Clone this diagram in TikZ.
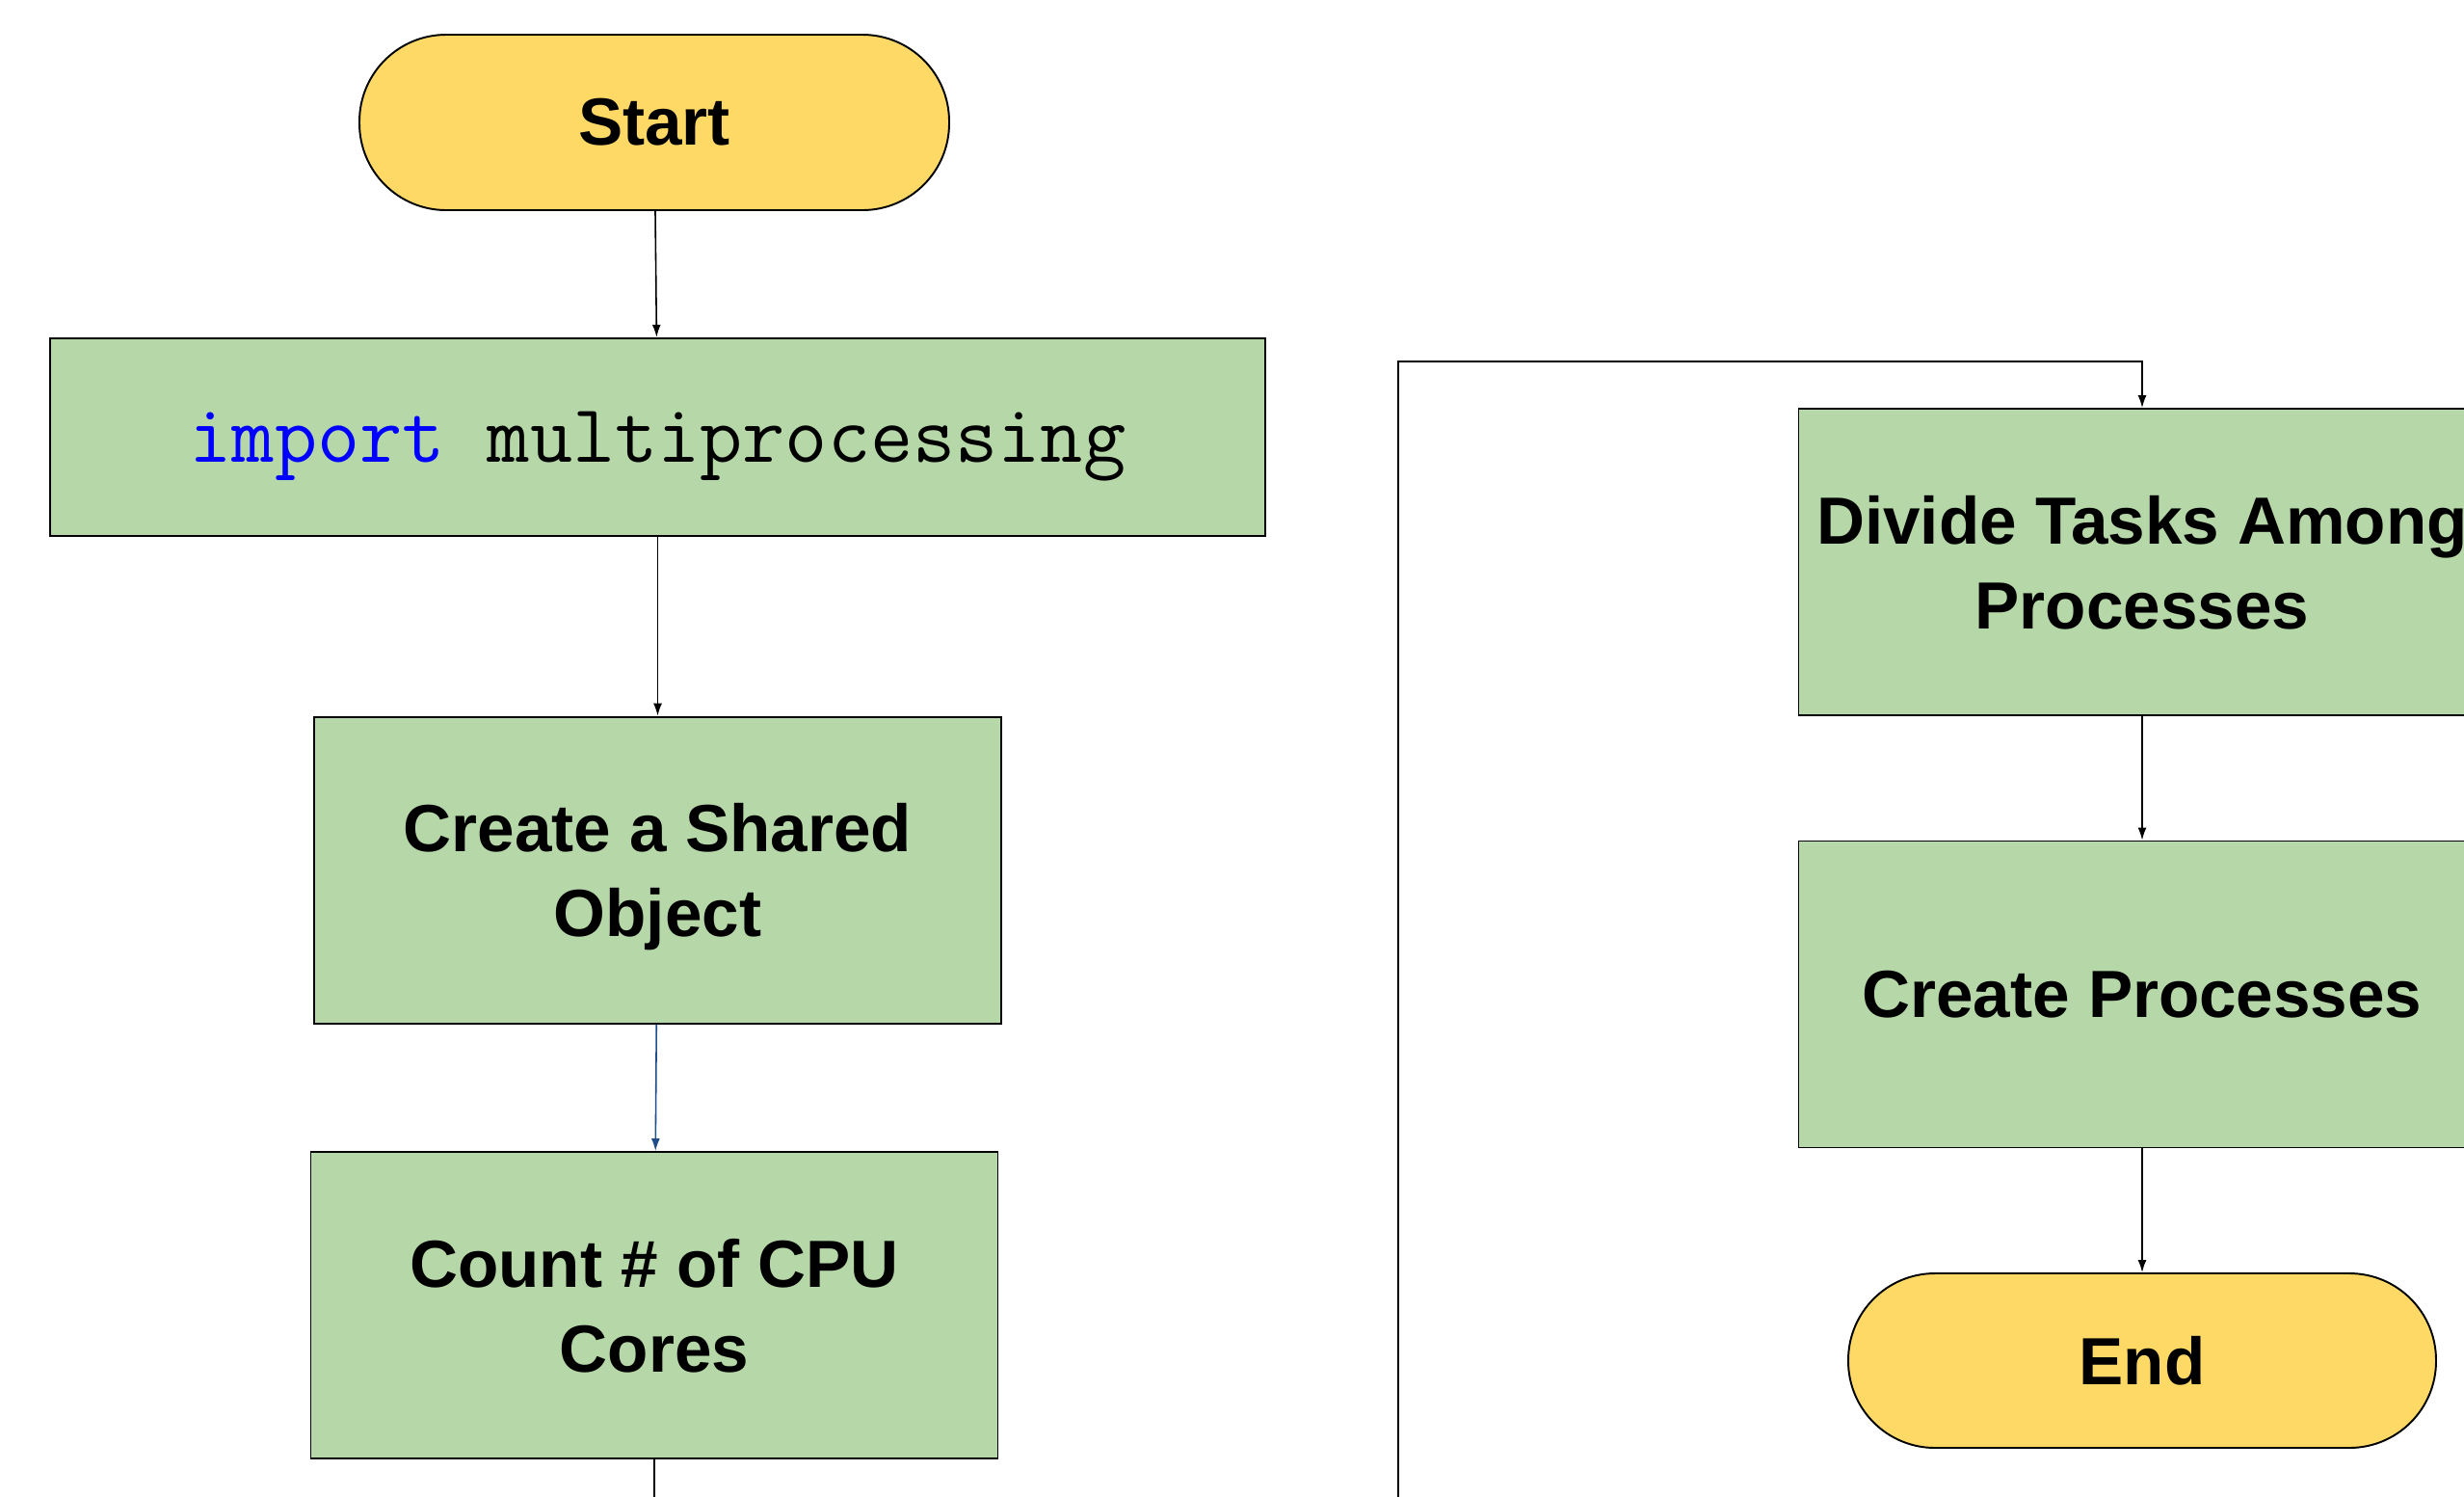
\documentclass[tikz,border=0pt]{standalone}
\usepackage{fontspec}
\setmainfont{Liberation Sans}
\usetikzlibrary{arrows.meta}

\definecolor{startgelb}{HTML}{FFD966}
\definecolor{schrittgruen}{HTML}{B6D7A8}
\definecolor{pfeilblau}{HTML}{1F4E8A}
\definecolor{codeblau}{HTML}{0000FF}

\begin{document}
\begin{tikzpicture}[
    font=\fontsize{19.7}{25}\selectfont\bfseries,
    terminal/.style={draw, fill=startgelb, line width=0.55pt, rounded corners=9mm,
        minimum width=6.12cm, minimum height=1.82cm},
    schritt/.style={draw, fill=schrittgruen, line width=0.55pt, align=center,
        text depth=0pt, minimum width=7.13cm, minimum height=3.18cm},
    pfeil/.style={-{Latex[length=1.3mm,width=0.9mm]}, line width=0.45pt},
]

    % 1. Bildausschnitt (rechts und unten angeschnitten)
    \clip (0,0) rectangle (25.57,-15.52);

    % 2. Linke Spalte
    \node[terminal] (start) at (6.79,-1.27) {Start};
    \node[schritt, minimum width=12.61cm, minimum height=2.055cm] (import) at (6.825,-4.535)
        {\fontsize{24.4}{25}\selectfont\ttfamily\mdseries\textcolor{codeblau}{import} multiprocessing};
    \node[schritt] (shared) at (6.825,-9.026) {Create a Shared\\Object};
    \node[schritt] (count) at (6.79,-13.54) {Count \# of CPU\\Cores};

    % 3. Rechte Spalte
    \node[schritt] (divide) at (22.23,-5.83) {Divide Tasks Among\\Processes};
    \node[schritt] (create) at (22.23,-10.315) {Create Processes};
    \node[terminal, minimum width=6.1cm, minimum height=1.81cm] (end) at (22.23,-14.115) {End};

    % 4. Hilfspunkte fuer die Ruecklaufleitung
    \coordinate (countweiter) at (6.79,-15.7);
    \coordinate (loopunten) at (14.51,-15.7);
    \coordinate (loopoben) at (14.51,-3.75);

    % 5. Verbindungen
    \draw[pfeil] (start) -- (import);
    \draw[pfeil] (import) -- (shared);
    \draw[pfeil, pfeilblau] (shared) -- (count);
    \draw[line width=0.45pt] (count) -- (countweiter);
    \draw[pfeil] (loopunten) -- (loopoben) -| (divide);
    \draw[pfeil] (divide) -- (create);
    \draw[pfeil] (create) -- (end);

\end{tikzpicture}
\end{document}
